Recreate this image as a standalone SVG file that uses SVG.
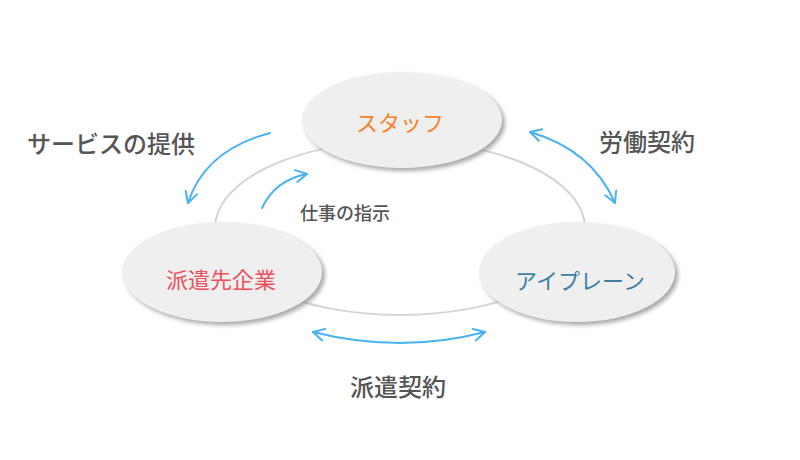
<svg xmlns="http://www.w3.org/2000/svg" width="800" height="460" viewBox="0 0 800 460">
<style>
.node{fill:#efefef;filter:url(#sh)}
.nt{font-family:"Noto Sans CJK JP","Noto Sans",sans-serif;font-size:22px;text-anchor:middle;dominant-baseline:central}
.lb{font-family:"Noto Sans CJK JP","Noto Sans",sans-serif;font-size:24px;font-weight:500;fill:#555555;text-anchor:middle;dominant-baseline:central}
.ar{fill:none;stroke:#4ab2f2;stroke-width:2;stroke-linecap:round}
</style>
<defs>
<filter id="sh" x="-20%" y="-20%" width="140%" height="150%">
<feDropShadow dx="3" dy="3" stdDeviation="2" flood-color="#999999" flood-opacity="0.85"/>
</filter>
<marker id="ah" viewBox="0 0 14 14" refX="12" refY="7" markerWidth="14" markerHeight="14" markerUnits="userSpaceOnUse" orient="auto-start-reverse">
<path d="M1,1 L12,7 L1,13" fill="none" stroke="#4ab2f2" stroke-width="2" stroke-linecap="round" stroke-linejoin="round"/>
</marker>
</defs>
<rect width="800" height="460" fill="#ffffff"/>
<g id="connectors">
<ellipse cx="400" cy="228" rx="185" ry="87" fill="none" stroke="#d4d4d4" stroke-width="2"/>
<path class="ar" d="M270,133 Q205,150 188,203" marker-end="url(#ah)"/>
<path class="ar" d="M262,208 Q275,180 307,174" marker-end="url(#ah)"/>
<path class="ar" d="M530,132 Q592,150 615,203" marker-start="url(#ah)" marker-end="url(#ah)"/>
<path class="ar" d="M313,332 Q400,354 485,332" marker-start="url(#ah)" marker-end="url(#ah)"/>
</g>
<g id="staff">
<ellipse class="node" cx="402" cy="120" rx="100" ry="48"/>
<text class="nt" x="400" y="121" fill="#f5822c">スタッフ</text>
</g>
<g id="haken">
<ellipse class="node" cx="222" cy="272" rx="100" ry="50"/>
<text class="nt" x="221" y="278" fill="#f0505e">派遣先企業</text>
</g>
<g id="aiplane">
<ellipse class="node" cx="577" cy="272" rx="98" ry="50"/>
<text class="nt" x="580" y="279" fill="#3d7fa6">アイプレーン</text>
</g>
<g id="labels">
<text class="lb" x="111" y="142">サービスの提供</text>
<text class="lb" x="647" y="140">労働契約</text>
<text class="lb" x="398" y="385">派遣契約</text>
<text class="lb" x="345" y="212" style="font-size:18px">仕事の指示</text>
</g>
</svg>
